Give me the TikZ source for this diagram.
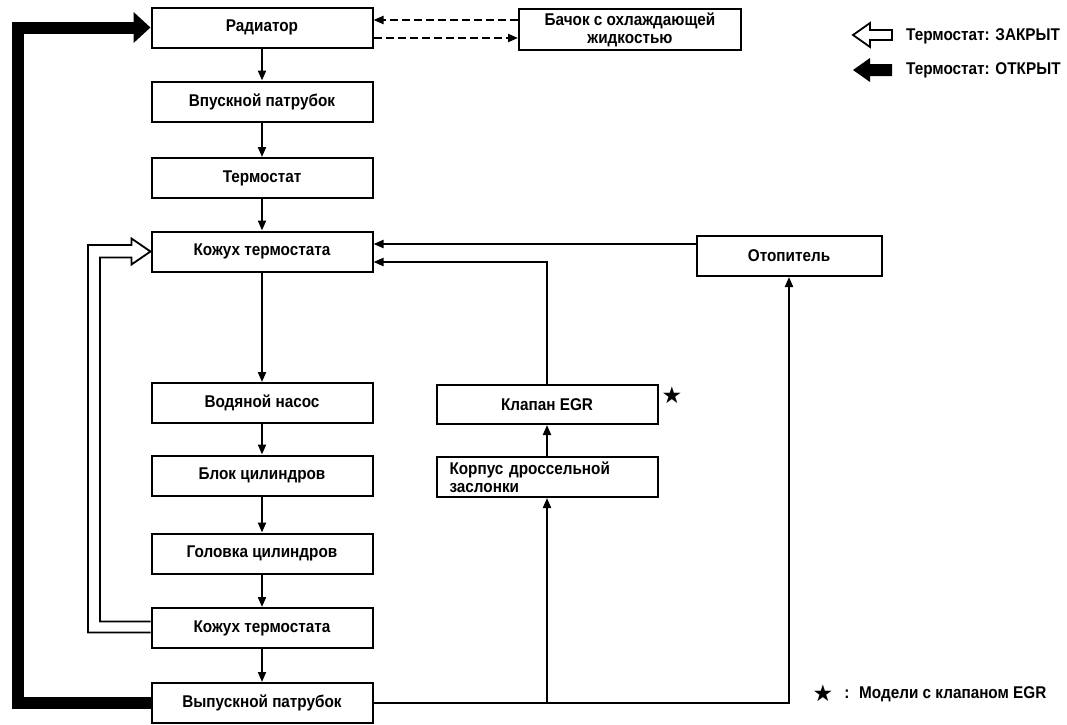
\documentclass[tikz,border=0pt]{standalone}
\usepackage{fontspec}
\setmainfont{Liberation Sans}[FakeStretch=0.9]
\newfontfamily\symfont{DejaVu Sans}
\usetikzlibrary{arrows.meta,calc}
\begin{document}
\begin{tikzpicture}[x=1pt,y=-1pt,
  font=\fontsize{17}{18}\selectfont\bfseries,
  box/.style={draw, line width=2pt, minimum width=221pt, minimum height=40pt, inner sep=0pt, align=center},
  flow/.style={line width=2pt, -{Triangle[length=10pt,width=8pt]}},
  dflow/.style={flow, dash pattern=on 8pt off 4pt},
  thickarrow/.style={line width=12pt, line join=miter, -{Triangle[length=17pt,width=30pt]}},
  hollow/.style={line width=1.8pt, line join=miter},
  starsym/.style={inner sep=0pt, font=\fontsize{23}{23}\selectfont\symfont},
  lbl/.style={inner sep=0pt, anchor=west}]
\useasboundingbox (0,0) rectangle (1067,724);
% left column
\node[box] (rad) at (262,27.5) {Радиатор};
\node[box] (vp) at (262,101.5) {Впускной патрубок};
\node[box] (term) at (262,178) {Термостат};
\node[box] (k1) at (262,251.5) {Кожух термостата};
\node[box] (wn) at (262,403) {Водяной насос};
\node[box] (bc) at (262,475.5) {Блок цилиндров};
\node[box] (gc) at (262,553.5) {Головка цилиндров};
\node[box] (k2) at (262,628) {Кожух термостата};
\node[box] (vyp) at (262,703) {Выпускной патрубок};
% other boxes
\node[box, minimum width=222pt, minimum height=41pt] (bak) at (630,29.5) {Бачок с охлаждающей\\жидкостью};
\node[box, minimum width=185pt] (otop) at (789,256) {Отопитель};
\node[box, minimum height=39pt] (egr) at (547,404.5) {Клапан EGR};
\node[box, align=left, text width=195pt] (korp) at (547,477) {Корпус дроссельной\\заслонки};
\node[starsym] (star) at (672,395) {★};
% column flow
\draw[flow] (rad.south) -- (vp.north);
\draw[flow] (vp.south) -- (term.north);
\draw[flow] (term.south) -- (k1.north);
\draw[flow] (k1.south) -- (wn.north);
\draw[flow] (wn.south) -- (bc.north);
\draw[flow] (bc.south) -- (gc.north);
\draw[flow] (gc.south) -- (k2.north);
\draw[flow] (k2.south) -- (vyp.north);
% dashed radiator <-> tank
\coordinate (d1) at ($(bak.west)+(0,-9.5)$);
\coordinate (d2) at ($(bak.west)+(0,8.5)$);
\draw[dflow] (d1) -- (d1 -| rad.east);
\draw[dflow] (d2 -| rad.east) -- (d2);
% right side
\coordinate (a1) at ($(otop.west)+(0,-12)$);
\draw[flow] (a1) -- (a1 -| k1.east);
\draw[flow] (egr.north) |- ($(k1.east)+(0,10.5)$);
\draw[flow] (korp.north) -- (korp.north |- egr.south);
\draw[flow] (vyp.east) -| (otop.south);
\draw[flow] (vyp.east -| korp.south) -- (korp.south);
% thick open-thermostat arrow
\coordinate (L) at (18,0);
\draw[thickarrow] (vyp.west) -| (L |- rad.west) -- (rad.west);
% hollow closed-thermostat arrow
\coordinate (H) at (94,0);
\draw[hollow] ($(k2.west)+(0,4.5)$) -- ($(H |- k2.west)+(-6,4.5)$) -- ($(H |- k1.west)+(-6,-6.5)$)
  -- ($(k1.west)+(-19,-6.5)$) -- ($(k1.west)+(-19,-13)$) -- (k1.west) -- ($(k1.west)+(-19,13)$)
  -- ($(k1.west)+(-19,6)$) -- ($(H |- k1.west)+(6,6)$) -- ($(H |- k2.west)+(6,-6.5)$) -- ($(k2.west)+(0,-6.5)$);
% legend
\draw[hollow] (853,35) -- (870,23) -- (870,30) -- (892,30) -- (892,40) -- (870,40) -- (870,47) -- cycle;
\fill (853,70) -- (870,58) -- (870,64) -- (892,64) -- (892,76) -- (870,76) -- (870,82) -- cycle;
\node[lbl] (l1) at (906,36) {Термостат: ЗАКРЫТ};
\node[lbl] (l2) at (906,70) {Термостат: ОТКРЫТ};
\node[starsym] (l3s) at (823,693) {★};
\node[inner sep=0pt] (l3c) at (847,694) {:};
\node[lbl] (l3) at (859,694) {Модели с клапаном EGR};
\end{tikzpicture}
\end{document}
